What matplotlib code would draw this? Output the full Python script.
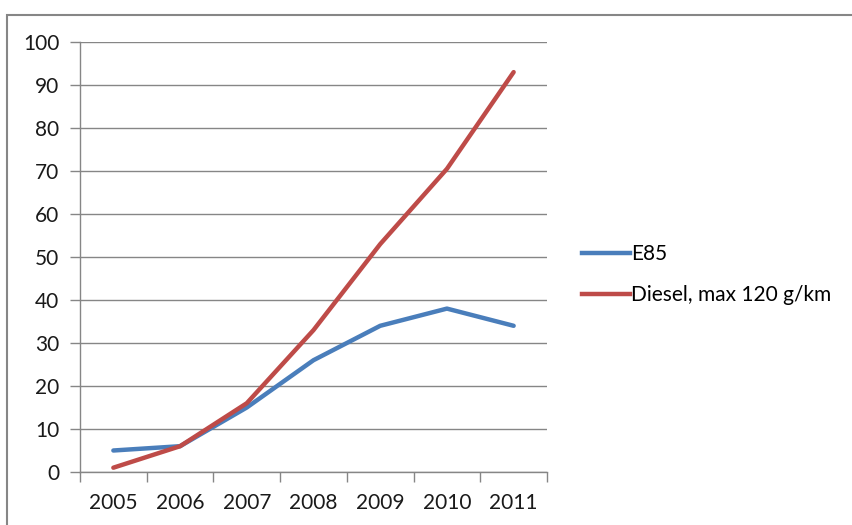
import matplotlib
matplotlib.use("Agg")
import matplotlib.pyplot as plt
from matplotlib.patches import Rectangle
from matplotlib.lines import Line2D

years = ["2005", "2006", "2007", "2008", "2009", "2010", "2011"]
e85 = [5, 6, 15, 26, 34, 38, 34]
diesel = [1, 6, 16, 33, 53, 70.5, 93]
series_names = ["E85", "Diesel, max 120 g/km"]
colors = ["#4a7ebb", "#be4b48"]

plt.rcParams['font.family'] = ['Lato', 'DejaVu Sans']
FS = 15

W, H = 853, 525
fig = plt.figure(figsize=(W / 100, H / 100), dpi=100)
ax = fig.add_axes([80 / W, 1 - 472 / H, (547 - 80) / W, (472 - 42) / H])

x = list(range(len(years)))
ax.plot(x, e85, color=colors[0], lw=3.2, solid_capstyle='round', solid_joinstyle='round', zorder=3)
ax.plot(x, diesel, color=colors[1], lw=3.2, solid_capstyle='round', solid_joinstyle='round', zorder=4)

ax.set_xlim(-0.5, len(years) - 0.5)
ax.set_ylim(0, 100)
ax.set_yticks(range(0, 101, 10))
ax.set_xticks(x)
ax.set_xticklabels(years)
ax.set_xticks([i - 0.5 for i in range(len(years) + 1)], minor=True)
ax.tick_params(axis='x', which='major', length=0, pad=15, labelsize=FS, labelcolor='#1a1a1a')
ax.tick_params(axis='x', which='minor', length=7, color='#868686', width=1)
ax.tick_params(axis='y', length=7, color='#868686', width=1, pad=8, labelsize=FS, labelcolor='#1a1a1a')
ax.grid(axis='y', color='#868686', lw=1)
ax.set_axisbelow(True)
for s in ['top', 'right']:
    ax.spines[s].set_visible(False)
for s in ['left', 'bottom']:
    ax.spines[s].set_color('#868686')
    ax.spines[s].set_linewidth(1)

# legend
handles = [Line2D([], [], color=c, lw=3.2) for c in colors]
fig.legend(handles, series_names, loc='upper left', bbox_to_anchor=(574 / W, 1 - 236 / H),
           frameon=False, fontsize=FS, handlelength=2.3, handletextpad=0.05,
           labelspacing=1.0, borderaxespad=0)

# outer chart border
fig.patches.append(Rectangle((7 / W, -0.1), 1.1, 1 - 15 / H + 0.1, transform=fig.transFigure,
                             fill=False, edgecolor='#868686', lw=1.5))

fig.savefig("out.png", dpi=100)
